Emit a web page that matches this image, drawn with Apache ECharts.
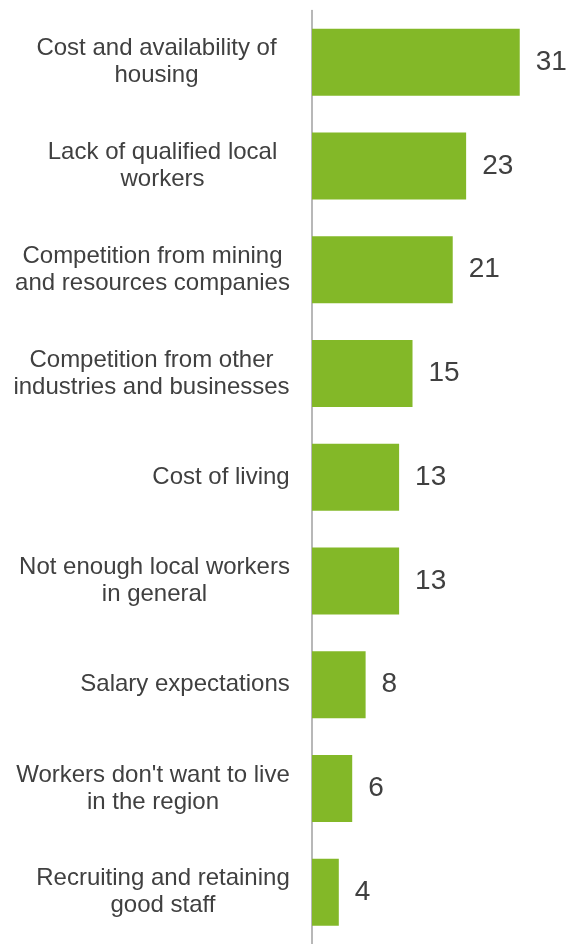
<!DOCTYPE html>
<html>
<head>
<meta charset="utf-8">
<style>
html,body{margin:0;padding:0;background:#fff;}
#chart{width:570px;height:944px;}
</style>
<script src="https://cdn.jsdelivr.net/npm/echarts@6/dist/echarts.min.js"></script>
</head>
<body>
<div id="chart"></div>
<script>
const categories = [
  'Cost and availability of\nhousing',
  'Lack of qualified local\nworkers',
  'Competition from mining\nand resources companies',
  'Competition from other\nindustries and businesses',
  'Cost of living',
  'Not enough local workers\nin general',
  'Salary expectations',
  "Workers don't want to live\nin the region",
  'Recruiting and retaining\ngood staff'
];
const values = [31, 23, 21, 15, 13, 13, 8, 6, 4];
// extra label box width (layout tweak) per category
const labelExtra = [26, 25, 0, 0, 0, 0, 0, 0, 0];

const FONT = '"Liberation Sans", Arial, sans-serif';
const LABEL_SIZE = 24;

const ctx = document.createElement('canvas').getContext('2d');
ctx.font = LABEL_SIZE + 'px "Liberation Sans"';
const rich = {};
categories.forEach((c, i) => {
  const w = Math.max(...c.split('\n').map(l => ctx.measureText(l).width));
  rich['c' + i] = {
    width: Math.ceil(w) + labelExtra[i],
    align: 'center',
    fontSize: LABEL_SIZE,
    fontFamily: FONT,
    color: '#404040',
    lineHeight: 27
  };
});

const chart = echarts.init(document.getElementById('chart'), null, {renderer: 'canvas'});
chart.setOption({
  animation: false,
  backgroundColor: '#ffffff',
  grid: {left: 312, right: 0, top: 10.4, height: 938, containLabel: false},
  xAxis: {type: 'value', min: 0, max: 38.5, show: false},
  yAxis: {
    type: 'category',
    inverse: true,
    data: categories,
    axisLine: {show: true, lineStyle: {color: '#a0a0a0', width: 1.5}},
    axisTick: {show: false},
    splitLine: {show: false},
    axisLabel: {
      margin: 22,
      align: 'right',
      fontSize: LABEL_SIZE,
      fontFamily: FONT,
      color: '#404040',
      lineHeight: 27,
      formatter: function (val, idx) {
        return val.split('\n').map(l => '{c' + idx + '|' + l + '}').join('\n');
      },
      rich: rich
    }
  },
  series: [{
    type: 'bar',
    data: values,
    barWidth: 67,
    itemStyle: {color: '#83b828'},
    label: {
      show: true,
      position: 'right',
      distance: 16,
      fontSize: 28,
      fontFamily: FONT,
      color: '#404040'
    }
  }]
});
</script>
</body>
</html>
